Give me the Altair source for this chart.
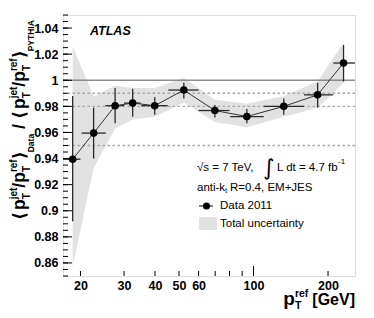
import altair as alt
import pandas as pd

# ---------------- data ----------------
pt_x = [18.6, 22.6, 27.6, 32.5, 39.9, 52.3, 69.8, 94.0, 132.5, 181.5, 231.0]
x_lo = [17.0, 20.2, 25.2, 30.0, 35.2, 45.3, 60.0, 80.5, 110.0, 160.0, 210.0]
x_hi = [20.0, 25.3, 30.0, 35.0, 45.0, 60.0, 80.0, 110.0, 160.0, 210.0, 260.0]
ratio = [0.9395, 0.9595, 0.9805, 0.9825, 0.9805, 0.9925, 0.9768, 0.9722, 0.9800, 0.9888, 1.0132]
err_lo = [0.892, 0.940, 0.967, 0.972, 0.9735, 0.986, 0.9715, 0.967, 0.9735, 0.979, 0.999]
err_hi = [0.988, 0.979, 0.994, 0.9935, 0.987, 0.998, 0.981, 0.978, 0.986, 0.998, 1.027]
band_lo = [0.857, 0.9325, 0.963, 0.970, 0.972, 0.983, 0.968, 0.964, 0.972, 0.979, 0.998]
band_hi = [1.026, 0.9875, 0.996, 0.994, 0.994, 1.002, 0.985, 0.982, 0.988, 0.999, 1.029]

ref_solid = [1.0]
ref_dotted = [0.99, 0.98, 0.95]

y_major = [0.86, 0.88, 0.90, 0.92, 0.94, 0.96, 0.98, 1.00, 1.02, 1.04]
y_minor = [round(0.85 + 0.005 * i, 3) for i in range(41)]
x_label_vals = [20, 30, 40, 50, 60, 100, 200]
x_short_ticks = [20, 30, 40, 50, 60, 70, 80, 90, 200]
x_long_ticks = [100]

# ---------------- layout ----------------
W, H = 292, 261
FONT = "Liberation Sans"
xs = alt.Scale(type="log", domain=[17, 257], nice=False)
ys = alt.Scale(domain=[0.85, 1.05], nice=False, zero=False)

AX = alt.Axis(values=x_label_vals, format="d", title=None,
              labelFontWeight="bold", labelFontSize=12.5, labelFont=FONT, labelColor="black",
              ticks=False, tickSize=0, domain=False, grid=False, labelPadding=3, labelFlush=False)
AY = alt.Axis(values=y_major, title=None, labelExpr="format(datum.value, '.2~f')",
              labelFontWeight="bold", labelFontSize=12.5, labelFont=FONT, labelColor="black",
              ticks=False, tickSize=0, domain=False, grid=False, labelPadding=5, labelFlush=False)

df = pd.DataFrame(dict(x=pt_x, lo=x_lo, hi=x_hi, r=ratio, elo=err_lo, ehi=err_hi,
                       blo=band_lo, bhi=band_hi))
one = pd.DataFrame({"a": [0]})

X = lambda f: alt.X(f, type="quantitative", scale=xs, axis=AX)
Y = lambda f: alt.Y(f, type="quantitative", scale=ys, axis=AY)

band = alt.Chart(df).mark_area(color="#e2e2e2", opacity=1, interpolate="linear").encode(
    x=X("x"), y=Y("bhi"), y2="blo:Q")

solid = alt.Chart(pd.DataFrame({"v": ref_solid})).mark_rule(color="#8c8c8c", strokeWidth=1.6).encode(y=Y("v"))
dotted = alt.Chart(pd.DataFrame({"v": ref_dotted})).mark_rule(
    color="#a8a8a8", strokeWidth=1.4, strokeDash=[2.5, 2.5]).encode(y=Y("v"))

xerr = alt.Chart(df).mark_rule(color="#2a2a2a", strokeWidth=1.3, clip=True).encode(
    x=X("lo"), x2="hi:Q", y=Y("r"))
yerr = alt.Chart(df).mark_rule(color="#2a2a2a", strokeWidth=1.3, clip=True).encode(
    x=X("x"), y=Y("elo"), y2="ehi:Q")
line = alt.Chart(df).mark_line(color="#333333", strokeWidth=1).encode(x=X("x"), y=Y("r"))
pts = alt.Chart(df).mark_circle(color="black", size=58, opacity=1).encode(x=X("x"), y=Y("r"))

# ticks (inward)
ymaj = alt.Chart(pd.DataFrame({"v": y_major})).mark_rule(color="black", strokeWidth=1).encode(
    y=Y("v"), x=alt.value(0), x2=alt.value(9))
ymin = alt.Chart(pd.DataFrame({"v": y_minor})).mark_rule(color="black", strokeWidth=1).encode(
    y=Y("v"), x=alt.value(0), x2=alt.value(5))
xshort = alt.Chart(pd.DataFrame({"v": x_short_ticks})).mark_rule(color="black", strokeWidth=1).encode(
    x=X("v"), y=alt.value(H), y2=alt.value(H - 5))
xlong = alt.Chart(pd.DataFrame({"v": x_long_ticks})).mark_rule(color="black", strokeWidth=1).encode(
    x=X("v"), y=alt.value(H), y2=alt.value(H - 10))


def txt(s, x, y, size, weight="normal", angle=0, align="left", baseline="alphabetic",
        style="normal", font=FONT):
    return alt.Chart(one).mark_text(text=s, fontSize=size, fontWeight=weight, angle=angle,
                                    align=align, baseline=baseline, fontStyle=style,
                                    font=font, color="black").encode(
        x=alt.value(x), y=alt.value(y))


# approximate advance widths (em) of Liberation Sans Bold
EM = {"p": .611, "j": .278, "e": .556, "t": .333, "r": .389, "f": .333, "T": .611,
      "D": .722, "a": .556, "P": .667, "Y": .667, "H": .722, "I": .278, "A": .722,
      "/": .278, " ": .278, "[": .333, "]": .333, "G": .778, "V": .667, "⟨": .40, "⟩": .40}


def tw(s, size):
    return sum(EM.get(c, .6) for c in s) * size


MAIN, SUP = 17.5, 10
half = [
    ([("⟨", MAIN, 0)], 3),
    ([("p", MAIN, 0)], 0),
    ([("jet", SUP, 8), ("T", SUP, -5)], 0),
    ([("/", MAIN, 0)], 0),
    ([("p", MAIN, 0)], 0),
    ([("ref", SUP, 8), ("T", SUP, -5)], 0),
    ([("⟩", MAIN, 0)], 0),
]
ysegs = half + [([("Data", 8.5, -9)], 5), ([("/", MAIN, 0)], 5)] + half + [([("PYTHIA", 8.5, -9)], 0)]

layers_title = []
base_x = -38
pos = 205.0
for items, gap in ysegs:
    adv = max(tw(t, s) for t, s, _ in items)
    for t, s, sh in items:
        layers_title.append(txt(t, base_x - sh, pos, s, weight="bold", angle=270,
                                align="left", font=FONT + ", DejaVu Sans"))
    pos -= adv + gap

# x title: right aligned at plot right edge
xsegs = [
    ([("p", 19, 0)], 0),
    ([("ref", 10.5, 8), ("T", 10.5, -3.5)], 4),
    ([("[GeV]", 16, 0)], 0),
]
total = sum(max(tw(t, s) for t, s, _ in it) + g for it, g in xsegs)
posx = W - total
base_y = 290
for items, gap in xsegs:
    adv = max(tw(t, s) for t, s, _ in items)
    for t, s, sh in items:
        layers_title.append(txt(t, posx, base_y - sh, s, weight="bold"))
    posx += adv + gap

ann = [
    txt("ATLAS", 27, 16, 12.5, weight="bold", style="italic", baseline="middle"),
    txt("√s = 7 TeV,", 134, 153, 11.5, baseline="middle"),
    txt("∫", 200, 153, 22, baseline="middle", font="DejaVu Sans"),
    txt("L dt = 4.7 fb", 214, 153, 11.5, baseline="middle"),
    txt("-1", 275, 147, 8, baseline="middle"),
    txt("anti-k", 134, 173, 11.5, baseline="middle"),
    txt("t", 162, 176, 7.5, baseline="middle"),
    txt("R=0.4, EM+JES", 167, 173, 11.5, baseline="middle"),
    txt("Data 2011", 157, 191, 11.5, baseline="middle"),
    txt("Total uncertainty", 157, 208.5, 11.5, baseline="middle"),
]
leg_line = alt.Chart(one).mark_rule(color="black", strokeWidth=1).encode(
    x=alt.value(136), x2=alt.value(150), y=alt.value(191))
leg_pt = alt.Chart(one).mark_circle(color="black", size=50, opacity=1).encode(
    x=alt.value(143.5), y=alt.value(191))
leg_box = alt.Chart(one).mark_rect(color="#e2e2e2").encode(
    x=alt.value(136), x2=alt.value(154), y=alt.value(202), y2=alt.value(215))

chart = alt.layer(
    band, solid, dotted, xerr, yerr, line, pts,
    ymaj, ymin, xshort, xlong,
    leg_line, leg_pt, leg_box, *ann, *layers_title
).properties(
    width=W, height=H,
    autosize=alt.AutoSizeParams(type="none"),
    padding={"left": 55, "top": 7, "right": 11, "bottom": 34},
).configure_view(stroke="black", strokeWidth=1.5).configure(background="white")

chart.save("out.html", embed_options={"renderer": "svg", "actions": False})
